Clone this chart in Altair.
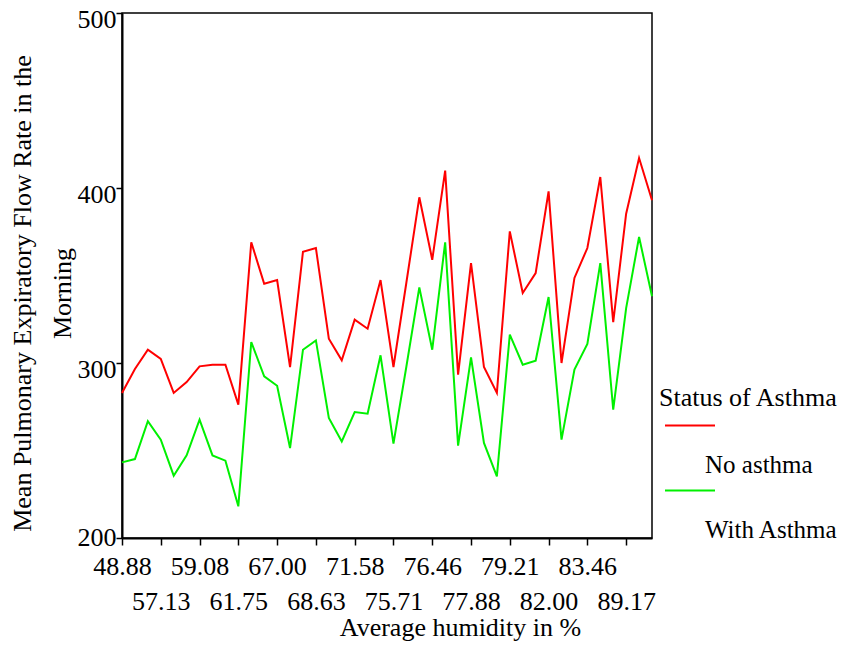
import altair as alt
import pandas as pd

# Tick labels shown on the humidity axis (every third category)
tick_labels = ["48.88", "57.13", "59.08", "61.75", "67.00", "68.63", "71.58",
               "75.71", "76.46", "77.88", "79.21", "82.00", "83.46", "89.17"]

# Mean PEFR in the morning, per humidity category (42 categories)
no_asthma = [282.9, 296.6, 307.6, 302.3, 282.9, 289.1, 298.1, 299.0, 299.0, 276.2,
             369.0, 345.3, 347.4, 297.7, 363.6, 365.7, 313.9, 301.5, 324.8, 319.6,
             347.4, 297.7, 346.0, 394.7, 359.0, 409.9, 293.3, 357.1, 297.7, 282.9,
             375.2, 340.0, 351.4, 398.1, 300.0, 348.6, 365.7, 406.3, 323.4, 385.3,
             417.1, 393.0]
with_asthma = [243.2, 245.1, 266.7, 256.2, 235.6, 247.2, 267.6, 247.2, 244.2, 218.1,
               312.0, 292.4, 287.0, 251.4, 307.6, 312.9, 268.6, 255.2, 272.0, 271.0,
               304.4, 253.9, 298.0, 343.2, 307.6, 369.0, 252.8, 303.2, 254.3, 235.2,
               316.2, 299.0, 301.3, 337.7, 256.2, 296.2, 310.9, 357.1, 273.3, 331.4,
               372.0, 338.1]
statuses = ["No asthma", "With Asthma"]
colors = ["#ff0000", "#00f000"]

rows = []
for i, v in enumerate(no_asthma):
    rows.append({"idx": i, "pefr": v, "status": statuses[0]})
for i, v in enumerate(with_asthma):
    rows.append({"idx": i, "pefr": v, "status": statuses[1]})
df = pd.DataFrame(rows)

n = len(no_asthma)
tick_vals = list(range(0, n, 3))[:len(tick_labels)]
lbl_arr = "[" + ",".join("'%s'" % t for t in tick_labels) + "]"
label_expr = "{a}[round(datum.value/3)]".format(a=lbl_arr)
second_row = "round(datum.value/3) % 2 == 1"

FONT = "Liberation Serif"

chart = alt.Chart(df).mark_line(strokeWidth=2).encode(
    x=alt.X("idx:Q",
            scale=alt.Scale(domain=[0, n - 1], nice=False, zero=False),
            axis=alt.Axis(values=tick_vals, labelExpr=label_expr, grid=False,
                          title="Average humidity in %",
                          labelOverlap=False, labelFlush=False, labelBound=False,
                          labelBaseline="alphabetic",
                          labelPadding=alt.condition(second_row,
                                                     alt.value(64), alt.value(29)),
                          tickSize=7,
                          titleX=338, titleY=97, titleBaseline="alphabetic",
                          titleAlign="center", titleAnchor="start")),
    y=alt.Y("pefr:Q",
            scale=alt.Scale(domain=[200, 500], nice=False, zero=False),
            axis=alt.Axis(values=[200, 300, 400, 500], grid=False,
                          title=["Mean Pulmonary Expiratory Flow Rate in the", "Morning"],
                          labelBaseline="alphabetic",
                          labelOffset=alt.condition("datum.value == 200",
                                                    alt.value(7), alt.value(14)),
                          labelPadding=0,
                          tickSize=6, titleAngle=270, titleLineHeight=40,
                          titleBaseline="top", titleAlign="center",
                          titleX=-113, titleY=280)),
    color=alt.Color("status:N",
                    scale=alt.Scale(domain=statuses, range=colors),
                    legend=alt.Legend(title="Status of Asthma", orient="none",
                                      legendX=537, legendY=372,
                                      symbolType="M-1.3,0H8.7", symbolSize=100,
                                      symbolStrokeWidth=2, symbolOffset=0,
                                      labelExpr="['', datum.label]",
                                      labelFontSize=25,
                                      labelBaseline="top", labelOffset=21,
                                      titleFontWeight="normal", padding=0,
                                      titlePadding=2, rowPadding=-5)),
).properties(
    width=530, height=525,
    autosize=alt.AutoSizeParams(type="none"),
    padding={"left": 114, "top": 5, "right": 189, "bottom": 103},
).configure(
    font=FONT,
).configure_view(
    stroke="black", strokeWidth=1.5,
).configure_axis(
    labelFont=FONT, titleFont=FONT, labelFontSize=26, titleFontSize=26,
    labelColor="black", titleColor="black", titleFontWeight="normal",
    domainColor="black", tickColor="black", domainWidth=2, tickWidth=1.5,
).configure_legend(
    labelFont=FONT, titleFont=FONT, labelFontSize=26, titleFontSize=26,
    labelColor="black", titleColor="black", labelLimit=0,
)

chart.save("out.html", embed_options={"renderer": "svg", "actions": False})
